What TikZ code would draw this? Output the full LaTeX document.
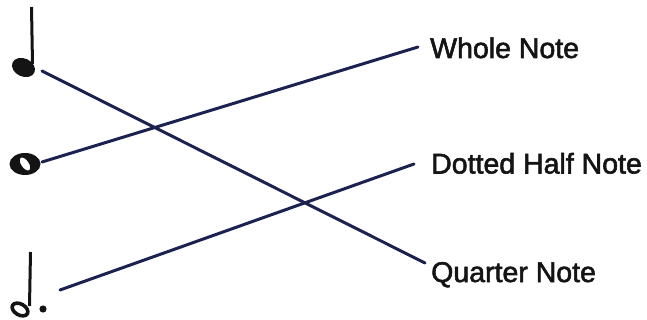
\documentclass[tikz,border=0pt]{standalone}
\usepackage{fontspec}
\setmainfont[FakeBold=2]{Liberation Sans}
\begin{document}
\begin{tikzpicture}[x=1pt,y=-1pt,
  conn/.style={draw=lineblue,line width=3pt,line cap=round},
  lbl/.style={anchor=base west,inner sep=0pt,font=\fontsize{28.5}{30}\selectfont,text=black!92},
  ink/.style={fill=black!92}]
\definecolor{lineblue}{HTML}{1C2250}
\useasboundingbox (0,0) rectangle (647,320);
% quarter note
\fill[ink] (23.5,67.5) ellipse[x radius=12,y radius=9,rotate=-25];
\draw[black!92,line width=3pt] (32.5,64) -- (31.5,7);
\coordinate (quarter) at (42,71);
% whole note
\fill[ink,even odd rule] (25,164) ellipse[x radius=15.5,y radius=11]
  (25,164) ellipse[x radius=3.8,y radius=7.5,rotate=35];
\coordinate (whole) at (42,162);
% dotted half note
\draw[black!92,line width=3.6pt] (20,309.5) ellipse[x radius=8.5,y radius=5.5,rotate=-30];
\draw[black!92,line width=3pt] (29.5,306) -- (30.5,252);
\fill[ink] (43,309) circle[radius=3.6];
\coordinate (dhalf) at (60,290);
% labels
\node[lbl] (lwhole) at (430,58) {Whole Note};
\node[lbl] (ldhalf) at (431,173.5) {Dotted Half Note};
\node[lbl] (lquarter) at (431,282) {Quarter Note};
\coordinate (ewhole) at (418,47);
\coordinate (edhalf) at (414,164);
\coordinate (equarter) at (425,263);
% connectors
\draw[conn] (quarter) -- (equarter);
\draw[conn] (whole) -- (ewhole);
\draw[conn] (dhalf) -- (edhalf);
\end{tikzpicture}
\end{document}
